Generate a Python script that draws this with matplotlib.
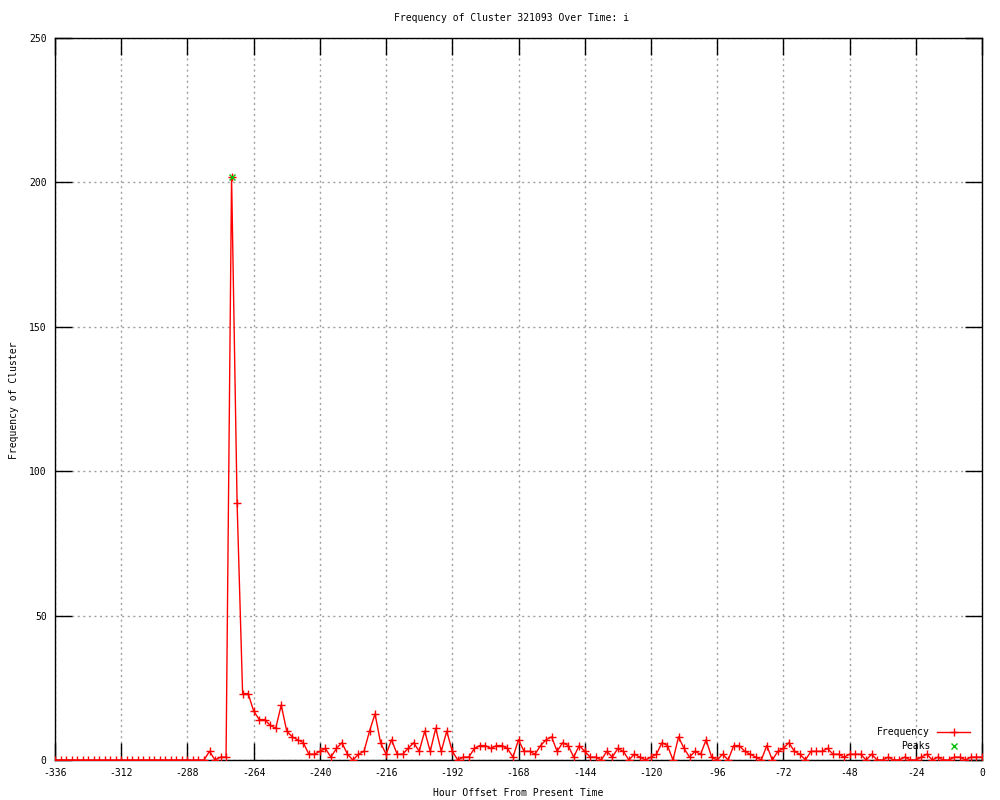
import numpy as np
import matplotlib
matplotlib.use("Agg")
import matplotlib.pyplot as plt
from matplotlib.lines import Line2D

# hourly offsets, sampled every 2 hours
hours = np.arange(-336, 1, 2)
freq = (
    [0] * 12 +
    [0] * 12 +
    [0, 0, 0, 0, 3, 0, 1, 1, 202, 89, 23, 23] +
    [17, 14, 14, 12, 11, 19, 10, 8, 7, 6, 2, 2] +
    [3, 4, 1, 4, 6, 2, 0, 2, 3, 10, 16, 6] +
    [2, 7, 2, 2, 4, 6, 3, 10, 3, 11, 3, 10] +
    [3, 0, 1, 1, 4, 5, 5, 4, 5, 5, 4, 1] +
    [7, 3, 3, 2, 5, 7, 8, 3, 6, 5, 1, 5] +
    [3, 1, 1, 0, 3, 1, 4, 3, 0, 2, 1, 0] +
    [1, 2, 6, 5, 0, 8, 4, 1, 3, 2, 7, 1] +
    [0, 2, 0, 5, 5, 3, 2, 1, 0, 5, 0, 3] +
    [4, 6, 3, 2, 0, 3, 3, 3, 4, 2, 2, 1] +
    [2, 2, 2, 0, 2, 0, 0, 1, 0, 0, 1, 0] +
    [0, 1, 2, 0, 1, 0, 0, 1, 1, 0, 1, 1] +
    [1]
)
peak_hours = [-272]
peak_freq = [202]

xticks = list(range(-336, 1, 24))
yticks = list(range(0, 251, 50))

mono = "DejaVu Sans Mono"
fs = 7

fig = plt.figure(figsize=(10, 8), dpi=100)
ax = fig.add_axes([0.055, 0.05, 0.927, 0.9025])

ax.plot(hours, freq, color="red", linewidth=1, marker="+", markersize=5.5,
        markeredgewidth=1, zorder=3)
ax.plot(peak_hours, peak_freq, linestyle="none", marker="x", color="#00c000",
        markersize=4.5, markeredgewidth=1, zorder=4)

ax.set_xlim(-336, 0)
ax.set_ylim(0, 250)
ax.set_xticks(xticks)
ax.set_yticks(yticks)
ax.set_xticklabels([str(t) for t in xticks], fontfamily=mono, fontsize=fs)
ax.set_yticklabels([str(t) for t in yticks], fontfamily=mono, fontsize=fs)
ax.tick_params(direction="in", length=12, width=1, top=True, right=True,
               pad=6)
ax.grid(True, color="#a0a0a0", linestyle=(0, (1.5, 2.5)), linewidth=1)
for s in ax.spines.values():
    s.set_linewidth(1)

fig.text(0.512, 0.9775, "Frequency of Cluster 321093 Over Time: i",
         ha="center", va="center", fontfamily=mono, fontsize=fs)
fig.text(0.518, 0.009, "Hour Offset From Present Time",
         ha="center", va="center", fontfamily=mono, fontsize=fs)
fig.text(0.014, 0.5, "Frequency of Cluster", rotation=90,
         ha="center", va="center", fontfamily=mono, fontsize=fs)

# key in the lower right, gnuplot style
fig.text(0.930, 1 - 732 / 800, "Frequency", ha="right", va="center",
         fontfamily=mono, fontsize=fs)
fig.add_artist(Line2D([0.937, 0.970], [1 - 732 / 800] * 2, color="red",
                      linewidth=1))
fig.add_artist(Line2D([0.9535], [1 - 732 / 800], color="red", marker="+",
                      markersize=5.5, markeredgewidth=1))
fig.text(0.930, 1 - 746 / 800, "Peaks", ha="right", va="center",
         fontfamily=mono, fontsize=fs)
fig.add_artist(Line2D([0.9535], [1 - 746 / 800], color="#00c000", marker="x",
                      markersize=4.5, markeredgewidth=1))

fig.savefig("out.png", dpi=100)
